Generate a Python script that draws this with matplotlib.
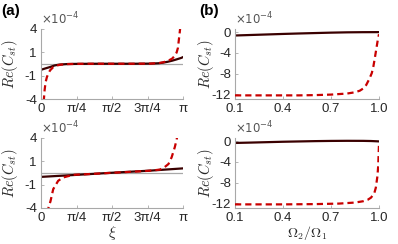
import numpy as np
import matplotlib
matplotlib.use("Agg")
import matplotlib.pyplot as plt
from matplotlib.ticker import NullLocator

plt.rcParams['font.family'] = ['Liberation Sans', 'DejaVu Sans']

PI = np.pi

# (a) upper: Re(C_st) vs xi, in units of 1e-4
xi_a1_solid = [0, 0.1, 0.2, 0.3, 0.4, 0.6, 0.8, 1.2, 2.0, 2.4, 2.6, 2.7, 2.8, 2.9, 3.0, 3.1, PI]
re_a1_solid = [-0.50, -0.38, -0.27, -0.14, -0.07, -0.02, -0.01, 0, 0, 0.01, 0.04, 0.09, 0.16, 0.25, 0.36, 0.48, 0.55]
xi_a1_dash = [0.06, 0.08, 0.1, 0.13, 0.16, 0.2, 0.27, 0.35, 0.45, 0.6, 0.8, 1.2, 2.0, 2.4, 2.6, 2.7,
              2.8, 2.9, 2.95, 3.0, 3.03, 3.05, 3.07, 3.09]
re_a1_dash = [-4.5, -2.6, -1.7, -1.15, -0.85, -0.55, -0.28, -0.14, -0.07, -0.03, -0.01, 0, 0, 0.01, 0.05, 0.12,
              0.22, 0.42, 0.62, 0.95, 1.4, 2.3, 3.4, 5.0]

# (a) lower
xi_a2_solid = [0, 0.8, 1.57, 2.4, PI]
re_a2_solid = [-0.34, -0.17, 0, 0.17, 0.36]
xi_a2_dash = [0.14, 0.17, 0.21, 0.27, 0.38, 0.49, 0.71, 1.0, 1.3, 1.6, 2.0, 2.3, 2.5, 2.63,
              2.72, 2.82, 2.89, 2.96, 3.0, 3.03]
re_a2_dash = [-5, -3.8, -2.9, -1.45, -0.67, -0.39, -0.17, -0.12, -0.06, 0, 0.08, 0.14, 0.2, 0.26,
              0.42, 0.73, 1.35, 2.5, 3.6, 5.0]

# (b) upper: Re(C_st) vs Omega2/Omega1
om_b1_solid = [0.1, 0.2, 0.3, 0.4, 0.5, 0.6, 0.7, 0.8, 0.9, 1.0]
re_b1_solid = [-0.65, -0.55, -0.45, -0.35, -0.26, -0.18, -0.1, -0.04, -0.01, 0]
om_b1_dash = [0.1, 0.3, 0.5, 0.6, 0.7, 0.8, 0.85, 0.88, 0.9, 0.92, 0.94, 0.955, 0.965, 0.975,
              0.985, 0.993, 1.0]
re_b1_dash = [-12.2, -12.2, -12.2, -12.15, -12.05, -11.85, -11.6, -11.3, -10.9, -10.2, -9.0, -7.9,
              -6.6, -4.8, -2.9, -1.4, -0.4]

# (b) lower
om_b2_solid = [0.1, 0.2, 0.3, 0.4, 0.5, 0.6, 0.7, 0.8, 0.9, 0.95, 1.0]
re_b2_solid = [-0.35, -0.28, -0.2, -0.12, -0.06, 0, 0.04, 0.06, 0.05, 0.02, -0.05]
om_b2_dash = [0.1, 0.4, 0.6, 0.75, 0.85, 0.9, 0.93, 0.95, 0.97, 0.98, 0.99, 0.995, 1.0]
re_b2_dash = [-12.2, -12.2, -12.15, -12.05, -11.85, -11.6, -11.3, -10.9, -10.1, -9.0, -6.8, -4.8, -0.4]

xi_ticks = [0, PI / 4, PI / 2, 3 * PI / 4, PI]
xi_labels = ['0', 'π/4', 'π/2', '3π/4', 'π']
om_ticks = [0.1, 0.4, 0.7, 1.0]
om_labels = ['0.1', '0.4', '0.7', '1.0']

solid_c = '#3a0000'
dash_c = '#c80000'
axis_c = '#a8a8a8'
text_c = '#262626'
dash_ls = (0, (2.8, 1.8))

fig = plt.figure(figsize=(3.98, 2.44), dpi=100)

W, H = 398, 244


def make_ax(x0, y0, w, h):
    # pixel box, y from top
    return fig.add_axes([x0 / W, 1 - (y0 + h) / H, w / W, h / H])


def style(ax):
    for s in ['top', 'right']:
        ax.spines[s].set_visible(False)
    for s in ['left', 'bottom']:
        ax.spines[s].set_color(axis_c)
        ax.spines[s].set_linewidth(0.8)
    ax.tick_params(direction='in', length=2.5, width=0.6, color=axis_c,
                   labelsize=9.5, labelcolor=text_c, pad=3)
    ax.text(0.0, 1.02, r'$\times10^{-4}$', transform=ax.transAxes, fontsize=8.5,
            color='#555555', math_fontfamily='dejavusans', va='bottom', ha='left')


ax_a = [make_ax(41, 28.5, 142, 70.5), make_ax(41, 137.5, 142, 70.5)]
ax_b = [make_ax(235, 28.5, 144, 70.5), make_ax(235, 137.5, 144, 70.5)]

a_data = [(xi_a1_solid, re_a1_solid, xi_a1_dash, re_a1_dash),
          (xi_a2_solid, re_a2_solid, xi_a2_dash, re_a2_dash)]
for ax, (xs, ys, xd, yd) in zip(ax_a, a_data):
    ax.set_yscale('asinh', linear_width=2)
    ax.axhline(0, color='#a8a8a8', lw=0.9, zorder=1)
    ax.plot(xs, ys, color=solid_c, lw=1.6, zorder=2)
    ax.plot(xd, yd, color=dash_c, lw=1.6, ls=dash_ls, zorder=3)
    ax.set_xlim(0, PI)
    ax.set_ylim(-4, 4)
    ax.set_yticks([-4, -1, 1, 4])
    ax.set_yticklabels(['-4', '-1', '1', '4'])
    ax.yaxis.set_minor_locator(NullLocator())
    ax.set_xticks(xi_ticks)
    ax.set_xticklabels(xi_labels)
    style(ax)
    ax.set_ylabel(r'$Re(C_{st})$', fontsize=10.5, math_fontfamily='cm', color=text_c)
    ax.yaxis.set_label_coords(-0.15, 0.5)

b_data = [(om_b1_solid, re_b1_solid, om_b1_dash, re_b1_dash),
          (om_b2_solid, re_b2_solid, om_b2_dash, re_b2_dash)]
for ax, (xs, ys, xd, yd) in zip(ax_b, b_data):
    ax.plot(xs, ys, color=solid_c, lw=1.6, zorder=2)
    ax.plot(xd, yd, color=dash_c, lw=1.6, ls=dash_ls, zorder=3)
    ax.set_xlim(0.1, 1.0)
    ax.set_ylim(-12.9, 0.7)
    ax.set_yticks([-12, -8, -4, 0])
    ax.set_yticklabels(['-12', '-8', '-4', '0'])
    ax.set_xticks(om_ticks)
    ax.set_xticklabels(om_labels)
    style(ax)
    ax.set_ylabel(r'$Re(C_{st})$', fontsize=10.5, math_fontfamily='cm', color=text_c)
    ax.yaxis.set_label_coords(-0.135, 0.5)

ax_a[1].set_xlabel(r'$\xi$', fontsize=11, math_fontfamily='cm', color=text_c, labelpad=0)
ax_b[1].set_xlabel(r'$\mathbf{\Omega_2/\Omega_1}$', fontsize=10, math_fontfamily='cm',
                   color=text_c, labelpad=0)

fig.text(0.002, 0.985, '(a)', fontsize=11, fontweight='bold', va='top', ha='left')
fig.text(0.500, 0.985, '(b)', fontsize=11, fontweight='bold', va='top', ha='left')

fig.savefig('out.png', dpi=100)
